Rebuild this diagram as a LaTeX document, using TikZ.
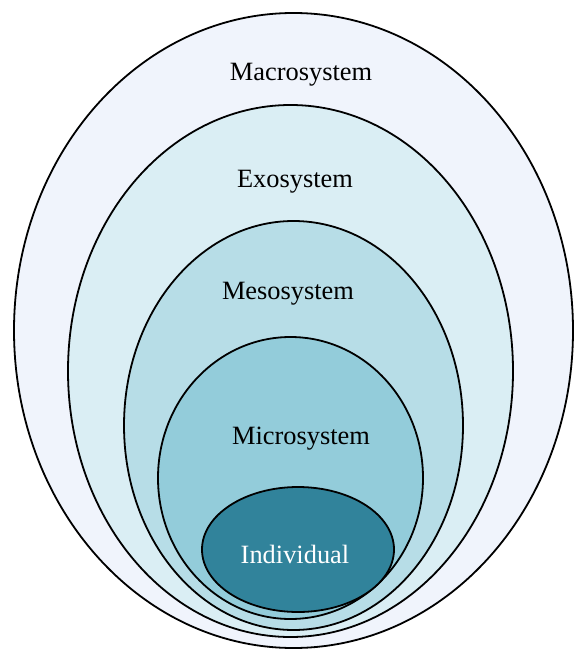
\documentclass[tikz,border=0pt]{standalone}
\usepackage{fontspec}
\setmainfont{Liberation Serif}

\definecolor{macrofill}{HTML}{F0F4FC}
\definecolor{exofill}{HTML}{DAEEF4}
\definecolor{mesofill}{HTML}{B7DDE7}
\definecolor{microfill}{HTML}{93CCDA}
\definecolor{indivfill}{HTML}{31839B}

\begin{document}
\begin{tikzpicture}[x=1pt, y=-1pt, line width=1.8pt,
    ring/.style={draw=black},
    label/.style={font=\fontsize{26.4}{30}\selectfont, inner sep=0pt}]
    \useasboundingbox (0, 0) rectangle (576, 650);
    \draw[ring, fill=macrofill] (293.5, 330.5) ellipse [x radius=279.5, y radius=317.5];
    \draw[ring, fill=exofill] (290.5, 371) ellipse [x radius=222.5, y radius=266];
    \draw[ring, fill=mesofill] (293.5, 425.5) ellipse [x radius=169.5, y radius=204.5];
    \draw[ring, fill=microfill] (290.5, 478) ellipse [x radius=132.5, y radius=141];
    \draw[ring, fill=indivfill] (298, 549.5) ellipse [x radius=96, y radius=62.5];
	\node[label] (macro) at (301, 75) {Macrosystem};
	\node[label] (exo) at (295, 182) {Exosystem};
	\node[label] (meso) at (288, 294) {Mesosystem};
	\node[label] (micro) at (301, 439) {Microsystem};
	\node[label, text=white] (indiv) at (295, 554) {Individual};
\end{tikzpicture}
\end{document}
